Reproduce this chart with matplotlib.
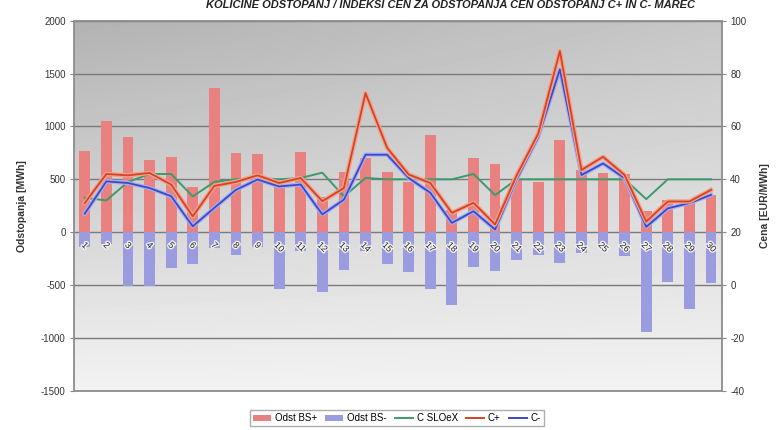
import numpy as np
import matplotlib
matplotlib.use("Agg")
import matplotlib.pyplot as plt
import matplotlib.patheffects as pe
from matplotlib.patches import Rectangle, Patch
from matplotlib.lines import Line2D

plt.rcParams['font.family'] = ['Liberation Sans', 'DejaVu Sans']

# ── data ──────────────────────────────────────────────────────────────────────
days = [str(d) for d in range(1, 31)]

odst_plus = [770, 1050, 900, 680, 710, 430, 1360, 750, 740, 470,
             760, 330, 570, 700, 570, 470, 920, 210, 700, 640,
             490, 470, 870, 590, 560, 550, 200, 300, 290, 350]
odst_minus = [-140, -110, -510, -510, -340, -300, -150, -220, -140, -540,
              -180, -570, -360, -180, -300, -380, -540, -690, -330, -370,
              -260, -220, -290, -200, -130, -230, -940, -470, -730, -480]

c_sloex = [33, 32, 39, 42, 42, 33.5, 39, 40, 40.5, 40,
           40.5, 42.5, 33.5, 40.5, 40, 40, 40, 40, 42, 34,
           40, 40, 40, 40, 40, 40, 32.5, 40, 40, 40]
c_plus = [31, 42, 41.5, 42.4, 38, 26, 37.5, 39, 41.5, 38.6,
          40.5, 31.7, 36.7, 72.6, 51.9, 41.8, 38.6, 27.3, 31.1, 22.9,
          41.5, 57.3, 88.5, 43.5, 48.5, 41.6, 24, 31.6, 31.6, 36]
c_minus = [27, 39.2, 38.6, 36.7, 33.6, 22.2, 29.2, 36, 39.9, 37.3,
           38, 26.7, 32.3, 49.3, 49.3, 40.5, 34.9, 23.5, 27.9, 21,
           40, 56, 81.6, 41.6, 46, 40.4, 22, 29, 31, 34.1]

left_ticks = [2000, 1500, 1000, 500, 0, -500, -1000, -1500]
right_ticks = [100, 80, 60, 40, 20, 0, -20, -40]

title = "KOLIČINE ODSTOPANJ / INDEKSI CEN ZA ODSTOPANJA CEN ODSTOPANJ C+ IN C- MAREC"

# ── figure ────────────────────────────────────────────────────────────────────
fig = plt.figure(figsize=(7.77, 4.30), dpi=100)
ax = fig.add_axes([0.0952, 0.0914, 0.8338, 0.8604])
x = np.arange(len(days))

# grey gradient background of the plot area
yy, xx = np.mgrid[0:1:100j, 0:1:100j]
bg = np.clip(0.70 + 0.25 * yy + 0.08 * xx * (1 - yy), 0, 0.95)
ax.imshow(bg, extent=(0, 1, 0, 1), transform=ax.transAxes, cmap="gray",
          vmin=0, vmax=1, aspect="auto", zorder=0, interpolation="bilinear")

for v in left_ticks:
    ax.axhline(v, color="#7a7a7a", lw=1.0, zorder=1)

ax.bar(x, odst_plus, width=0.5, color="#e8817f", zorder=2)
ax.bar(x, odst_minus, width=0.5, color="#9b9be0", zorder=2)

ax.set_xlim(-0.5, len(days) - 0.5)
ax.set_ylim(-1500, 2000)
ax.set_yticks(left_ticks)
ax.set_yticklabels([str(v) for v in left_ticks], fontsize=7, color="#333333")
ax.tick_params(axis="y", length=3, color="#888888", pad=3)

# category axis crosses at zero, labels drawn over the bars
ax.spines["bottom"].set_position(("data", 0))
ax.spines["bottom"].set_visible(False)
for s in ("top", "left", "right"):
    ax.spines[s].set_visible(False)
ax.xaxis.set_zorder(6)
ax.set_xticks(x)
ax.set_xticklabels(days, fontsize=6.5, rotation=-45, ha="center", va="top",
                   color="#222222")
for lab in ax.get_xticklabels():
    lab.set_path_effects([pe.withStroke(linewidth=2, foreground="#f2f2f2")])
ax.tick_params(axis="x", length=0, pad=6)

ax.add_patch(Rectangle((0, 0), 1, 1, transform=ax.transAxes, fill=False,
                       edgecolor="#8c8c8c", lw=1.3, zorder=5, clip_on=False))

ax.set_ylabel("Odstopanja [MWh]", fontsize=7.5, fontweight="bold",
              color="#333333", labelpad=10)

# ── price lines on right axis ────────────────────────────────────────────────
ax2 = ax.twinx()
ax2.set_ylim(-40, 100)
ax2.set_yticks(right_ticks)
ax2.set_yticklabels([str(v) for v in right_ticks], fontsize=7, color="#333333")
ax2.tick_params(axis="y", length=3, color="#888888", pad=3)
for s in ax2.spines.values():
    s.set_visible(False)

ax2.plot(x, c_sloex, color="#3d9a6c", lw=1.4, zorder=3)
ax2.plot(x, c_plus, color="#d8402a", lw=1.3, zorder=4,
         path_effects=[pe.Stroke(linewidth=3.2, foreground="#f0a487"), pe.Normal()])
ax2.plot(x, c_minus, color="#3c48c8", lw=1.3, zorder=3,
         path_effects=[pe.Stroke(linewidth=3.0, foreground="#a9aef0"), pe.Normal()])
ax2.set_ylabel("Cena [EUR/MWh]", fontsize=7.5, fontweight="bold",
               color="#333333", labelpad=10)

# title in the thin strip above the plot
fig.text(0.58, 0.999, title, fontsize=8, fontweight="bold", fontstyle="italic",
         ha="center", va="top", color="#222222")

handles = [Patch(facecolor="#e8817f"), Patch(facecolor="#9b9be0"),
           Line2D([], [], color="#3d9a6c", lw=1.4),
           Line2D([], [], color="#d8402a", lw=1.4),
           Line2D([], [], color="#3c48c8", lw=1.4)]
labels = ["Odst BS+", "Odst BS-", "C SLOeX", "C+", "C-"]
fig.legend(handles, labels, loc="center", bbox_to_anchor=(0.511, 0.027),
           ncol=5, fontsize=7, frameon=True, edgecolor="#999999", fancybox=False,
           handlelength=1.8, handletextpad=0.4, columnspacing=0.9,
           borderpad=0.3)

fig.savefig("out.png", dpi=100)
